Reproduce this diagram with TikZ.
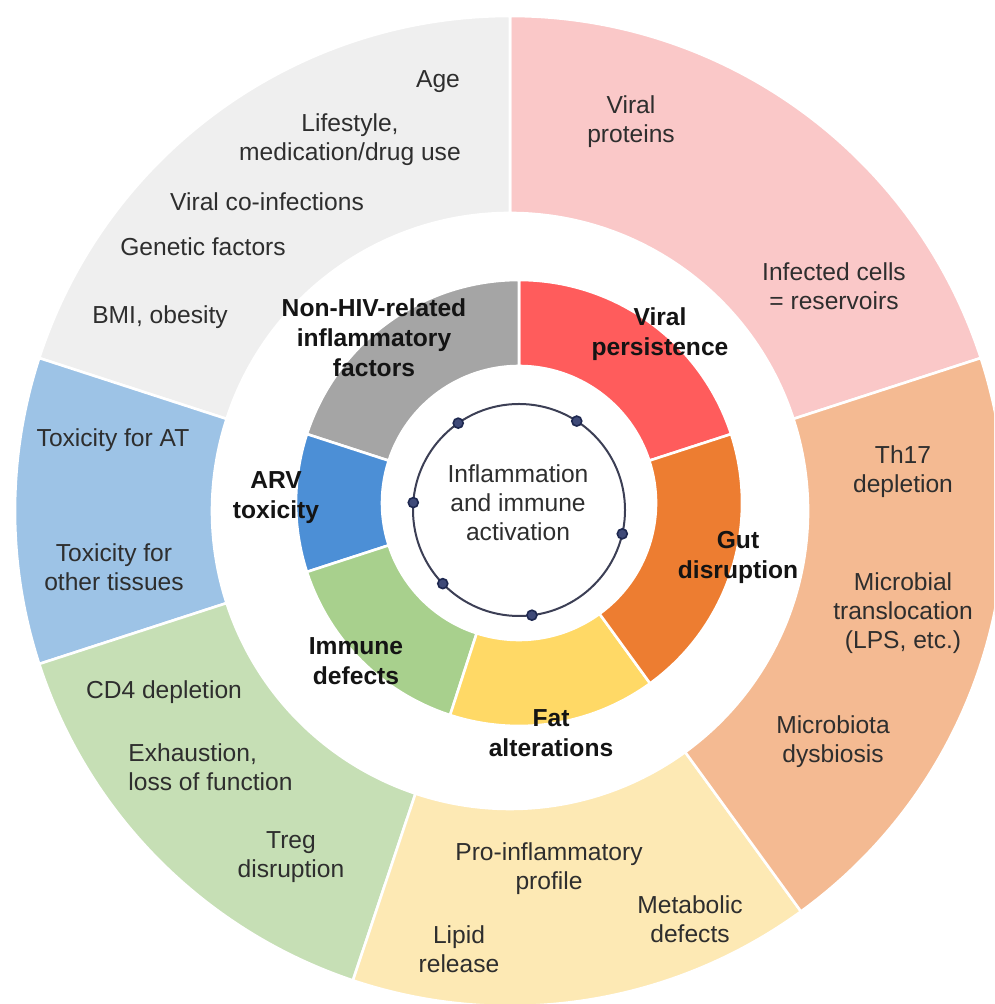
\documentclass[tikz,border=0pt]{standalone}
\usepackage{fontspec}
\setmainfont{Liberation Sans}
\usetikzlibrary{calc}
\definecolor{ogray}{HTML}{EFEFEF}
\definecolor{opink}{HTML}{FAC8C8}
\definecolor{oorange}{HTML}{F4BA92}
\definecolor{oyellow}{HTML}{FDE9B4}
\definecolor{ogreen}{HTML}{C6DFB5}
\definecolor{oblue}{HTML}{9DC3E6}
\definecolor{igray}{HTML}{A5A5A5}
\definecolor{ired}{HTML}{FF5C5C}
\definecolor{iorange}{HTML}{ED7D31}
\definecolor{iyellow}{HTML}{FFD966}
\definecolor{igreen}{HTML}{A8D08D}
\definecolor{iblue}{HTML}{4C8FD6}
\definecolor{txtgray}{HTML}{2E2E2E}
\definecolor{txtblack}{HTML}{141414}
\definecolor{ringline}{HTML}{3C3F55}
\definecolor{dotfill}{HTML}{3F4A78}
\definecolor{dotline}{HTML}{1E2850}
\newcommand\rsec[6]{\fill[#6, draw=white, line width=1.3pt] ($(#1)+(#2:#5)$) arc[start angle=#2, end angle=#3, radius=#5] -- ($(#1)+(#3:#4)$) arc[start angle=#3, end angle=#2, radius=#4] -- cycle;}
\begin{document}
\begin{tikzpicture}[x=0.5pt,y=0.5pt,
  outtxt/.style={text=txtgray, align=center, font=\fontsize{12.3}{14.6}\selectfont, inner sep=0pt},
  intxt/.style={text=txtblack, align=center, font=\fontsize{12.3}{15}\selectfont\bfseries, inner sep=0pt},
  dotmark/.style={circle, fill=dotfill, draw=dotline, line width=0.8pt, minimum size=5pt, inner sep=0pt}]
\useasboundingbox (0,0) rectangle (994,1004);
\clip (0,0) rectangle (994,1004);
\fill[white] (0,0) rectangle (994,1004);
\coordinate (O) at (510,493);
\coordinate (I) at (519,501);
\coordinate (C) at (519,494);
% outer ring
\rsec{O}{18}{90}{149pt}{247.5pt}{opink}
\rsec{O}{90}{162}{149pt}{247.5pt}{ogray}
\rsec{O}{162}{198}{149pt}{247.5pt}{oblue}
\rsec{O}{198}{251.5}{149pt}{247.5pt}{ogreen}
\rsec{O}{251.5}{306}{149pt}{247.5pt}{oyellow}
\rsec{O}{306}{378}{149pt}{247.5pt}{oorange}
% inner ring
\rsec{I}{18}{90}{68.5pt}{111.5pt}{ired}
\rsec{I}{90}{162}{68.5pt}{111.5pt}{igray}
\rsec{I}{162}{198}{68.5pt}{111.5pt}{iblue}
\rsec{I}{198}{252}{68.5pt}{111.5pt}{igreen}
\rsec{I}{252}{306}{68.5pt}{111.5pt}{iyellow}
\rsec{I}{306}{378}{68.5pt}{111.5pt}{iorange}
% centre circle
\draw[ringline, line width=1pt] (C) circle[radius=53pt];
\node[dotmark] (d1) at ($(C)+(125:53pt)$) {};
\node[dotmark] (d2) at ($(C)+(57:53pt)$) {};
\node[dotmark] (d3) at ($(C)+(176:53pt)$) {};
\node[dotmark] (d4) at ($(C)+(-13:53pt)$) {};
\node[dotmark] (d5) at ($(C)+(224:53pt)$) {};
\node[dotmark] (d6) at ($(C)+(277:53pt)$) {};
\node[outtxt] (ctr) at (518,501) {Inflammation\\and immune\\activation};
% outer gray texts
\node[outtxt] (age) at (438,922) {Age};
\node[outtxt] (life) at (350,864) {Lifestyle,\\medication/drug use};
\node[outtxt] (coinf) at (267,802) {Viral co-infections};
\node[outtxt] (gen) at (203,757) {Genetic factors};
\node[outtxt] (bmi) at (160,687) {BMI, obesity};
% pink
\node[outtxt] (vprot) at (631,882) {Viral\\proteins};
\node[outtxt] (infc) at (834,718) {Infected cells\\= reservoirs};
% blue
\node[outtxt] (toxat) at (113,564) {Toxicity for AT};
\node[outtxt] (toxot) at (114,437) {Toxicity for\\other tissues};
% green
\node[outtxt] (cd4) at (164,312) {CD4 depletion};
\node[outtxt, anchor=west, align=left] (exh) at (128,237) {Exhaustion,\\loss of function};
\node[outtxt] (treg) at (291,147) {Treg\\disruption};
% yellow
\node[outtxt] (proinf) at (549,135) {Pro-inflammatory\\profile};
\node[outtxt] (lipid) at (459,55) {Lipid\\release};
\node[outtxt] (metab) at (690,85) {Metabolic\\defects};
% orange
\node[outtxt] (th17) at (903,532) {Th17\\depletion};
\node[outtxt] (micro) at (903,391) {Microbial\\translocation\\(LPS, etc.)};
\node[outtxt] (dysb) at (833,262) {Microbiota\\dysbiosis};
% inner labels
\node[intxt] (nonhiv) at (374,666) {Non-HIV-related\\inflammatory\\factors};
\node[intxt] (vpers) at (660,670) {Viral\\persistence};
\node[intxt] (arv) at (276,506) {ARV\\toxicity};
\node[intxt] (immd) at (356,343) {Immune\\defects};
\node[intxt] (fat) at (551,271) {Fat\\alterations};
\node[intxt] (gut) at (738,447) {Gut\\disruption};
\end{tikzpicture}
\end{document}
